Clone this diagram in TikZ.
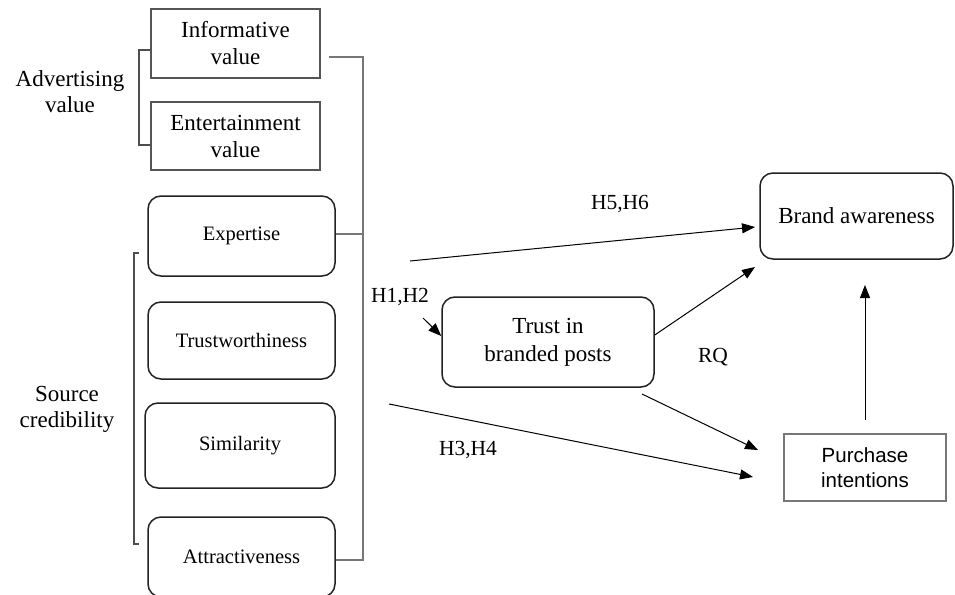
\documentclass[tikz,border=0pt]{standalone}
\usepackage{fontspec}
\setmainfont{Liberation Serif}
\newfontfamily\arialf{Liberation Sans}
\usetikzlibrary{arrows.meta,calc}
\definecolor{boxgray}{HTML}{555555}
\definecolor{linegray}{HTML}{777777}
\definecolor{dark}{HTML}{222222}
\begin{document}
\begin{tikzpicture}[x=1pt,y=-1pt,
  sqbox/.style={draw=boxgray,line width=1.4pt,align=center,inner sep=0pt,
    font=\fontsize{23}{27}\selectfont},
  rbox/.style={draw=dark,line width=1.5pt,rounded corners=13pt,align=center,inner sep=0pt,
    font=\fontsize{20.5}{25}\selectfont},
  bigrbox/.style={rbox,font=\fontsize{23}{28}\selectfont},
  pibox/.style={draw=linegray,line width=1.4pt,align=center,inner sep=0pt,
    font=\arialf\fontsize{20.5}{25}\selectfont},
  lbl/.style={align=center,inner sep=0pt,font=\fontsize{23}{26}\selectfont},
  hlbl/.style={inner sep=0pt,font=\fontsize{21.5}{25}\selectfont},
  conn/.style={draw=linegray,line width=1.3pt},
  brk/.style={draw=dark!80,line width=1.4pt},
  arr/.style={draw=black,line width=1pt,-{Triangle[length=13pt,width=10pt]}}]
\useasboundingbox (0,0) rectangle (955,594);
\clip (0,0) rectangle (955,594);

% Advertising value group
\node[sqbox,minimum width=169pt,minimum height=69pt] (info) at (235.5,43.5) {Informative\\value};
\node[sqbox,minimum width=169pt,minimum height=68pt] (ent) at (235.5,136) {Entertainment\\value};
\node[lbl] (adv) at (70,92) {Advertising\\value};

% Source credibility group
\node[rbox,minimum width=187pt,minimum height=80pt] (exp) at (241.5,236) {Expertise};
\node[rbox,minimum width=187pt,minimum height=77pt] (tw) at (241.5,340.5) {Trustworthiness};
\node[rbox,minimum width=190pt,minimum height=85pt] (sim) at (240,445.5) {Similarity};
\node[rbox,minimum width=187pt,minimum height=80pt] (attr) at (241.5,557) {Attractiveness};
\node[lbl] (src) at (67,409) {Source\\credibility};

% Right part
\node[bigrbox,minimum width=212pt,minimum height=90pt] (tbp) at (548,342) {Trust in\\branded posts};
\node[bigrbox,minimum width=193pt,minimum height=86pt] (brand) at (856.5,216) {Brand awareness};
\node[pibox,minimum width=162pt,minimum height=67pt] (pi) at (865,467.5) {Purchase\\intentions};

\node[hlbl] (h56) at (620,204) {H5,H6};
\node[hlbl] (h12) at (400,297) {H1,H2};
\node[hlbl] (rq) at (713,357) {RQ};
\node[hlbl] (h34) at (468,450) {H3,H4};

% brackets
\draw[brk] (info.west |- 0,50) -- (139,50) -- (139,145) -- (ent.west |- 0,145);
\draw[brk] (139,253) -- (134,253) -- (134,544) -- (139,544);

% collector line
\coordinate (ctop) at (363,57);
\coordinate (cbot) at (363,560);
\draw[conn] ($(info.east)+(8,13.5)$) -- (ctop) -- (cbot) -- (attr.east |- cbot);
\draw[conn] (exp.east |- 0,234) -- (363,234);

% arrows
\coordinate (a1s) at (410,261);
\coordinate (a1e) at (755,227);
\draw[arr] (a1s) -- (a1e);
\coordinate (a2s) at (423,318);
\draw[arr] (a2s) -- (tbp.north west |- 0,336);
\coordinate (a3e) at (755,267);
\draw[arr] (tbp.east |- 0,335) -- (a3e);
\coordinate (a4s) at (642,394);
\coordinate (a4e) at (758,450);
\draw[arr] (a4s) -- (a4e);
\coordinate (a5s) at (389,404);
\coordinate (a5e) at (753,477);
\draw[arr] (a5s) -- (a5e);
\coordinate (a6s) at (865,420);
\coordinate (a6e) at (865,285);
\draw[arr] (a6s) -- (a6e);
\end{tikzpicture}
\end{document}
